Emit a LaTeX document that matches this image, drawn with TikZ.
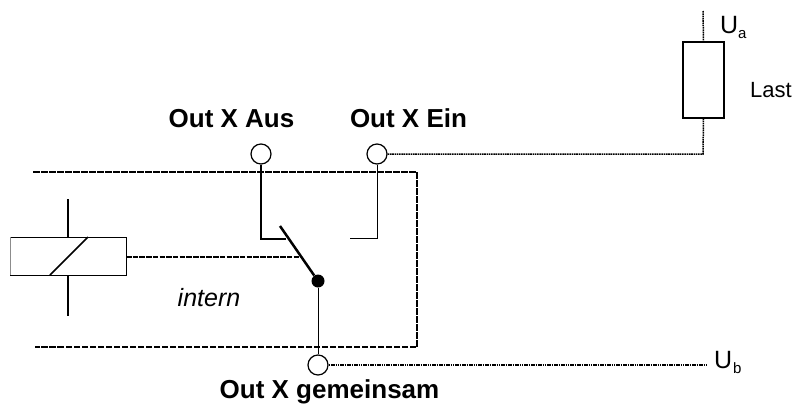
\documentclass[tikz,border=0pt]{standalone}
\usepackage{fontspec}
\setmainfont{Liberation Sans}
\tikzset{
  term/.style={circle,draw=black,line width=1.2pt,fill=white,minimum size=20pt,inner sep=0pt},
  wire/.style={draw=black,line width=1.2pt},
  thinwire/.style={draw=black,line width=0.9pt},
  dots/.style={draw=black,line width=1.5pt,dash pattern=on 1.6pt off 0.7pt},
  boundary/.style={draw=black,line width=1.5pt,dash pattern=on 6.5pt off 1.5pt},
  lab/.style={font=\fontsize{26pt}{28pt}\selectfont\bfseries,inner sep=0pt,anchor=base},
  plain/.style={font=\fontsize{22pt}{26pt}\selectfont,inner sep=0pt,anchor=base west},
  subs/.style={font=\fontsize{15pt}{16pt}\selectfont,inner sep=0pt,anchor=base west},
}
\begin{document}
\begin{tikzpicture}[x=1pt,y=-1pt]
\useasboundingbox (0,0) rectangle (801,407);
% boundary
\coordinate (bl) at (33,172); \coordinate (br) at (417,172);
\coordinate (cr) at (417,347); \coordinate (cl) at (35,347);
\draw[boundary] (bl) -- (br) -- (cr) -- (cl);
% relay
\coordinate (r1) at (10,237); \coordinate (r2) at (126,237);
\coordinate (r3) at (126,275); \coordinate (r4) at (10,275);
\draw[thinwire] (r1) -- (r2) -- (r3) -- (r4);
\draw[draw=black!45,line width=0.8pt] (r1) -- (r4);
\draw[wire,line width=1.5pt] (50,275) -- (88,237);
\draw[wire,line width=1.8pt] (68,199) -- (68,237);
\draw[wire,line width=1.8pt] (68,275) -- (68,316);
% terminals
\node[term] (aus) at (261,154) {};
\node[term] (ein) at (377,154) {};
\node[term] (gem) at (318,365) {};
% switch
\node[circle,fill=black,minimum size=13pt,inner sep=0pt] (piv) at (318,281) {};
\coordinate (tip) at (280,226);
\coordinate (ka) at (261,239); \coordinate (kb) at (286,239);
\coordinate (ke) at (377,238); \coordinate (kf) at (350,238);
\draw[wire,line width=2.5pt] (tip) -- (piv);
\draw[wire] (aus) -- (ka) -- (kb);
\draw[thinwire] (ein) -- (ke) -- (kf);
\draw[thinwire] (piv) -- (gem);
\coordinate (rm) at (126,257); \coordinate (sm) at (299,257);
\draw[dots,line width=1.2pt,dash pattern=on 5.5pt off 1.2pt] (rm) -- (sm);
% load
\node[draw=black,line width=1.2pt,minimum width=41pt,minimum height=76pt,inner sep=0pt] (last) at (703.5,80) {};
\draw[line width=1.7pt] (last.south west) -- (last.south east);
\coordinate (ut) at (703,11);
\coordinate (corner) at (703,154);
\coordinate (ub) at (708,365);
\draw[dots] (ut) -- (last.north);
\draw[dots] (ein) -- (corner) -- (last.south);
\draw[dots] (gem) -- (ub);
% texts
\node[lab] (t1) at (231.5,127) {Out X Aus};
\node[lab] (t2) at (408.5,127) {Out X Ein};
\node[lab] (t3) at (329.5,398) {Out X gemeinsam};
\node[plain,font=\fontsize{25pt}{26pt}\selectfont\itshape,anchor=base] (t4) at (209,306) {intern};
\node[plain] (t5) at (750,97) {Last};
\node[plain,font=\fontsize{25pt}{26pt}\selectfont] (t6) at (720,33) {U};
\node[subs] (t6s) at (738,38) {a};
\node[plain,font=\fontsize{25pt}{26pt}\selectfont] (t7) at (714,368) {U};
\node[subs] (t7s) at (733,373) {b};
\end{tikzpicture}
\end{document}
